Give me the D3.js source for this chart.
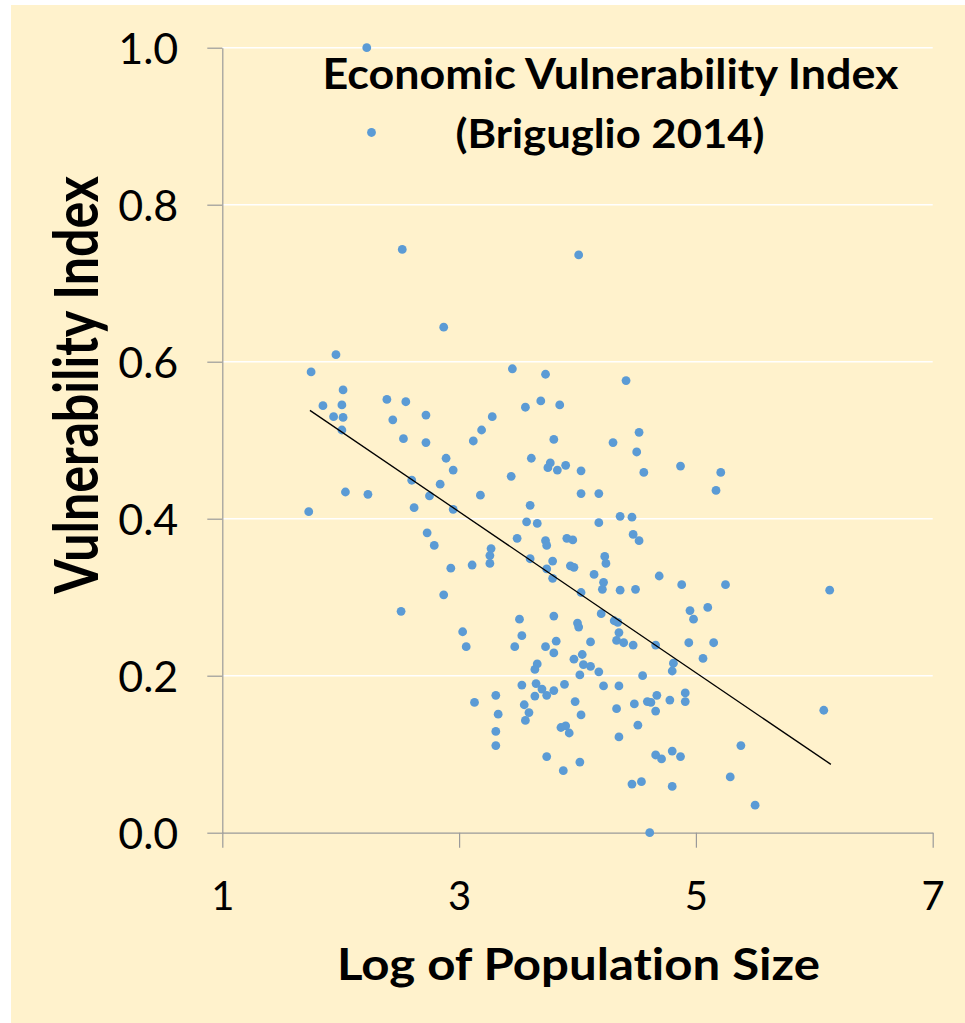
<!DOCTYPE html>
<html><head><meta charset="utf-8">
<script src="https://cdn.jsdelivr.net/npm/d3@7"></script>
<style>html,body{margin:0;padding:0;background:#fff;} svg{display:block;} text{font-variant-ligatures:none;font-feature-settings:"liga" 0;}</style>
</head><body>
<svg id="chart" width="965" height="1023"></svg>
<script>
// ---- data ----
const xValues = [
2.22,2.26,2.52,4.01,2.87,1.96,1.75,3.45,3.73,2.02,
2.39,2.55,1.85,2.01,3.56,3.69,3.85,1.94,2.02,2.44,
2.72,3.28,2.01,3.19,2.53,2.72,3.12,3.80,4.30,2.89,
3.61,3.77,3.75,3.83,3.90,4.03,2.95,3.44,2.60,2.84,
2.75,2.04,2.23,3.18,4.03,4.18,1.73,2.62,2.95,3.60,
3.57,3.66,4.18,4.36,2.73,2.79,3.49,3.73,3.74,3.91,
3.96,3.27,3.26,3.26,4.23,4.24,3.60,3.79,3.94,3.97,
2.93,3.11,3.74,3.79,4.14,4.22,4.21,4.03,2.87,4.36,
4.41,4.52,4.50,4.56,4.87,5.21,5.17,4.46,4.47,4.52,4.49,4.69,4.88,5.25,6.13,
2.51,3.51,3.80,4.20,4.00,4.01,4.31,4.34,4.35,4.33,3.03,3.53,3.06,3.47,3.73,3.82,4.11,3.80,3.97,4.04,
3.66,3.64,4.05,4.11,4.18,4.02,3.53,3.65,3.70,3.80,3.74,3.64,3.89,4.22,4.35,3.13,3.31,3.55,3.59,3.56,
3.33,3.98,4.03,4.33,3.31,3.31,3.86,3.90,3.93,4.35,3.74,4.02,3.88,
4.39,4.47,4.66,4.94,5.15,4.95,4.98,5.10,5.06,4.81,4.80,4.55,
4.67,4.59,4.62,4.78,4.91,4.91,4.66,4.48,4.51,4.66,4.71,4.80,4.87,4.46,4.54,4.80,5.38,5.29,5.50,6.08,4.61
];
const yValues = [
1.000,0.892,0.743,0.736,0.644,0.609,0.587,0.591,0.584,0.564,
0.552,0.549,0.544,0.545,0.542,0.550,0.545,0.530,0.529,0.526,
0.532,0.530,0.513,0.513,0.502,0.497,0.499,0.501,0.497,0.477,
0.477,0.471,0.465,0.462,0.468,0.461,0.462,0.454,0.449,0.444,
0.429,0.434,0.431,0.430,0.432,0.432,0.409,0.414,0.412,0.417,
0.396,0.394,0.395,0.403,0.382,0.366,0.375,0.372,0.366,0.375,
0.373,0.362,0.353,0.343,0.352,0.343,0.349,0.346,0.340,0.338,
0.337,0.341,0.336,0.324,0.329,0.319,0.310,0.306,0.303,0.309,
0.576,0.510,0.485,0.459,0.467,0.459,0.436,0.402,0.380,0.372,0.310,0.327,0.316,0.316,0.309,
0.282,0.272,0.276,0.279,0.267,0.262,0.270,0.268,0.255,0.245,0.256,0.251,0.237,0.237,0.237,0.244,0.243,0.229,0.221,0.227,
0.215,0.208,0.214,0.212,0.205,0.201,0.188,0.190,0.183,0.181,0.175,0.174,0.189,0.187,0.187,0.166,0.175,0.163,0.153,0.143,
0.151,0.167,0.150,0.158,0.129,0.111,0.134,0.136,0.127,0.122,0.097,0.090,0.079,
0.242,0.239,0.239,0.242,0.242,0.283,0.272,0.287,0.222,0.216,0.206,0.200,
0.175,0.167,0.166,0.169,0.178,0.167,0.155,0.164,0.137,0.099,0.094,0.104,0.097,0.062,0.065,0.059,0.111,0.071,0.035,0.156,0.000
];
// linear trend line end points
const trendX = [1.74, 6.14];
const trendY = [0.538, 0.087];
const xTicks = [1, 3, 5, 7];
const yTicks = [0, 0.2, 0.4, 0.6, 0.8, 1.0];
const gridValues = [0.2, 0.4, 0.6, 0.8, 1.0];
const titleLines = ["Economic Vulnerability Index", "(Briguglio 2014)"];
const xTitle = "Log of Population Size";
const yTitle = "Vulnerability Index";

// ---- drawing ----
const FONT = "Lato, 'Open Sans', 'Noto Sans', sans-serif";
const CAP = 0.7165;
const svg = d3.select("#chart");
svg.append("rect").attr("x", 11).attr("y", 5).attr("width", 954).attr("height", 1018).attr("fill", "#FFF2CC");

const x = d3.scaleLinear().domain([1, 7]).range([222.3, 932.7]);
const y = d3.scaleLinear().domain([0, 1]).range([832.7, 47.7]);

// gridlines
svg.append("g").selectAll("line").data(gridValues).join("line")
  .attr("x1", x(1)).attr("x2", x(7))
  .attr("y1", d => y(d)).attr("y2", d => y(d))
  .attr("stroke", "#ffffff").attr("stroke-width", 1.5);

const axisColor = "#9a9a9a";
// y axis
const gy = svg.append("g").attr("transform", `translate(${x(1)},0)`)
  .call(d3.axisLeft(y).tickValues(yTicks).tickSize(15).tickSizeOuter(0).tickFormat(d3.format(".1f")));
gy.select(".domain").attr("stroke", axisColor).attr("stroke-width", 1.2);
gy.selectAll(".tick line").attr("stroke", axisColor).attr("stroke-width", 1.2);
gy.selectAll(".tick text").attr("x", -44).attr("dy", null).attr("y", 15.5)
  .attr("font-family", FONT).attr("font-size", 43).attr("fill", "#000");

// x axis
const gx = svg.append("g").attr("transform", `translate(0,${y(0)})`)
  .call(d3.axisBottom(x).tickValues(xTicks).tickSize(15).tickSizeOuter(0).tickFormat(d3.format("d")));
gx.select(".domain").attr("stroke", axisColor).attr("stroke-width", 1.2);
gx.selectAll(".tick line").attr("stroke", axisColor).attr("stroke-width", 1.2);
gx.selectAll(".tick text").attr("y", 77).attr("dy", null)
  .attr("font-family", FONT).attr("font-size", 40).attr("fill", "#000");

// points
const pts = xValues.map((v, i) => ({x: v, y: yValues[i]}));
svg.append("g").selectAll("circle").data(pts).join("circle")
  .attr("cx", d => x(d.x)).attr("cy", d => y(d.y)).attr("r", 4.4)
  .attr("fill", "#5B9BD5");

// trend line
svg.append("line")
  .attr("x1", x(trendX[0])).attr("y1", y(trendY[0]))
  .attr("x2", x(trendX[1])).attr("y2", y(trendY[1]))
  .attr("stroke", "#000").attr("stroke-width", 1.3);

// fitted text helper: cap height and width targets
function fitted(str, cx, by, targetW, capH, rotate) {
  const t = svg.append("text").text(str)
    .attr("font-family", FONT).attr("font-weight", 700)
    .attr("font-size", capH / CAP).attr("text-anchor", "middle").attr("fill", "#000");
  const w = t.node().getComputedTextLength();
  const s = targetW / w;
  t.attr("transform", `translate(${cx},${by})${rotate ? " rotate(-90)" : ""} scale(${s},1)`);
  return t;
}
fitted(titleLines[0], 610.5, 89, 576, 29.5, false);
fitted(titleLines[1], 610, 148, 309, 28.5, false);
fitted(xTitle, 578.5, 980, 483, 32, false);
fitted(yTitle, 98, 385, 418, 44, true);
</script>
</body></html>
